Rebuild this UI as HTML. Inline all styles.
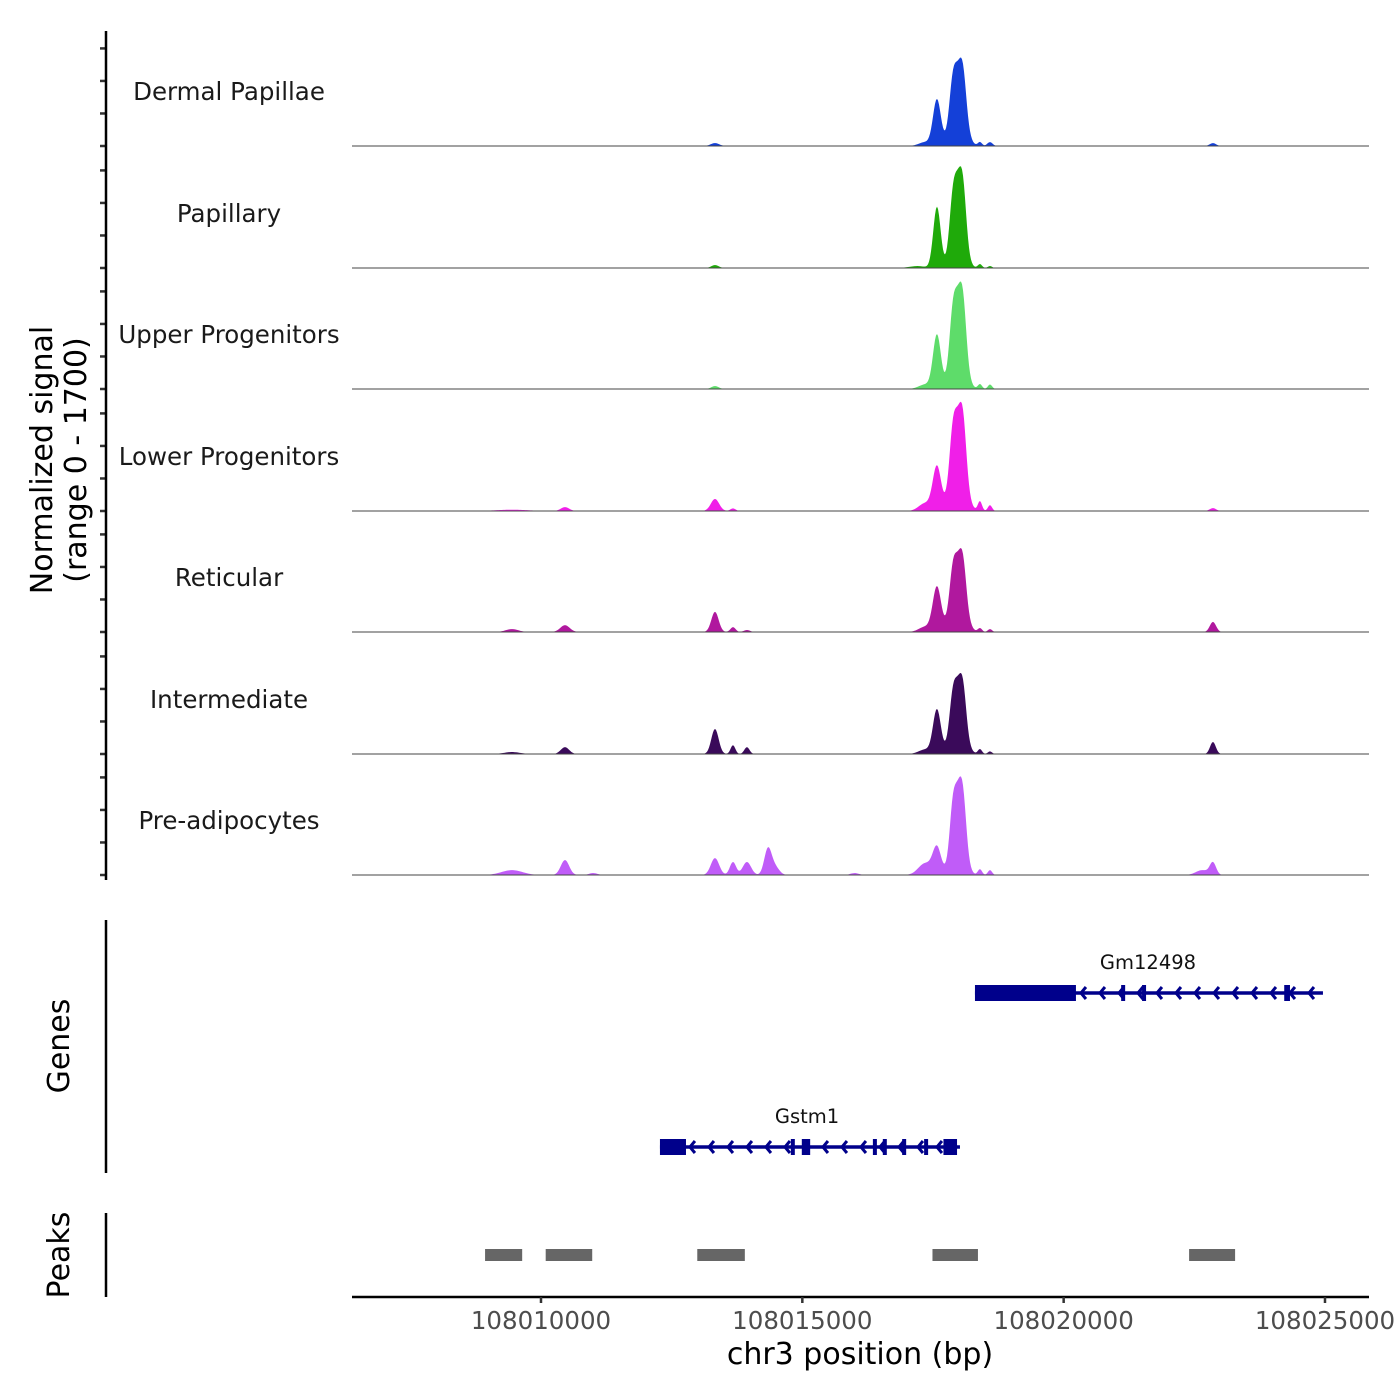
<!DOCTYPE html>
<html><head><meta charset="utf-8">
<style>
html,body{margin:0;padding:0;background:#fff;}
svg{display:block;font-family:"DejaVu Sans","Liberation Sans",sans-serif;}
</style></head>
<body>
<svg id="chart" width="1400" height="1400" viewBox="0 0 1400 1400">
<g id="tracks"></g>
<g id="genes"></g>
<g id="peaks"></g>
<g id="axes"></g>
</svg>
<script>
// ---- data ----
const trackNames = ["Dermal Papillae","Papillary","Upper Progenitors","Lower Progenitors","Reticular","Intermediate","Pre-adipocytes"];
const trackColors = ["#1440d8","#1faa0a","#5edc6a","#f01fe8","#b0189e","#3a0a5a","#c05cf8"];
// peaks per track: [center bp, height (signal), sigma bp]
const peaksDP  = [[108017980,1150,120],[108017870,350,60],[108018080,420,60],[108017576,710,75],[108013329,45,80],[108018398,60,40],[108018590,60,50],[108022856,45,60],[108017350,60,120]];
const peaksPap = [[108017980,1330,110],[108017870,400,60],[108018080,500,60],[108017576,940,70],[108013329,45,70],[108018398,60,40],[108018590,30,40],[108017200,30,150]];
const peaksUP  = [[108017980,1400,115],[108017870,420,60],[108018080,520,60],[108017576,830,75],[108013329,45,70],[108018398,75,40],[108018590,70,40],[108017350,70,120]];
const peaksLP  = [[108017980,1420,120],[108017870,420,60],[108018080,520,60],[108017576,680,80],[108013329,185,80],[108010459,60,80],[108018398,150,40],[108018590,90,40],[108022856,45,60],[108017350,120,120],[108013673,40,50],[108009445,20,300]];
const peaksRet = [[108017980,1090,120],[108017870,330,60],[108018080,400,60],[108017576,690,80],[108013329,310,70],[108010459,105,90],[108013673,75,50],[108013940,30,60],[108022856,155,60],[108009445,45,120],[108018398,60,40],[108018590,45,40],[108017350,80,120]];
const peaksInt = [[108017980,1050,115],[108017870,330,60],[108018080,400,60],[108017576,680,75],[108013329,385,70],[108013673,135,45],[108013940,105,50],[108010459,105,80],[108022856,185,55],[108018398,75,40],[108018590,40,40],[108009445,30,150],[108017350,70,120]];
const peaksPre = [[108017980,1300,110],[108017870,380,55],[108018080,480,60],[108017576,415,80],[108013329,260,80],[108013673,200,60],[108013940,200,80],[108014342,400,70],[108014480,120,80],[108010459,230,80],[108009445,75,200],[108022856,185,60],[108022650,75,120],[108018398,90,40],[108018590,75,40],[108017350,180,130],[108011000,30,80],[108016000,30,80]];
const trackPeaks = [peaksDP,peaksPap,peaksUP,peaksLP,peaksRet,peaksInt,peaksPre];
const xTicks = [108010000,108015000,108020000,108025000];
const xTickLabels = ["108010000","108015000","108020000","108025000"];
const yTicks = [0,500,1000,1500];
const geneNames = ["Gm12498","Gstm1"];
const geneSpans = [[108018303,108024961],[108012276,108018016]];
const geneExons = [
  [[108018303,108020235],[108021100,108021140],[108021500,108021540],[108024220,108024330]],
  [[108012276,108012774],[108014780,108014830],[108014990,108015150],[108016350,108016400],[108016540,108016590],[108016910,108016950],[108017330,108017370],[108017700,108017960]]
];
const peakRegions = [[108008930,108009640],[108010090,108010980],[108012990,108013900],[108017490,108018360],[108022400,108023280]];

// ---- scales ----
const X0=352, X1=1369, BP0=108006384, BP1=108025842;
const xs = bp => X0 + (bp-BP0)*(X1-X0)/(BP1-BP0);
const baselines = [146,268,389,511,632,754,875];
const trackH = 110.6, YMAX = 1700;
const ys = (v,b) => b - v/YMAX*trackH;
const NS="http://www.w3.org/2000/svg";
function mk(tag, attrs, parent){const e=document.createElementNS(NS,tag);for(const k in attrs)e.setAttribute(k,attrs[k]);parent.appendChild(e);return e;}

const gT=document.getElementById('tracks');
trackNames.forEach((name,i)=>{
  const b=baselines[i];
  const g=mk('g',{},gT);
  
  
  let d='M'+X0+','+b;
  for(let x=X0;x<=X1;x+=1){
    const bp=BP0+(x-X0)*(BP1-BP0)/(X1-X0);
    let v=0;
    for(const p of trackPeaks[i]){const z=(bp-p[0])/p[2];v+=p[1]*Math.exp(-0.5*z*z);}
    d+=' L'+x+','+ys(Math.min(v,YMAX),b).toFixed(2);
  }
  d+=' L'+X1+','+b+' Z';
  const area=mk('path',{d:d,fill:trackColors[i]},g);
  
  
  const bl=mk('line',{x1:X0,x2:X1,y1:b,y2:b,stroke:'#444',"stroke-width":1},g);
  
  
  const t=mk('text',{x:229,y:b-46,"text-anchor":"middle","font-size":24.5,fill:"#1a1a1a"},g);
  t.textContent=name;
  
  
  yTicks.forEach(v=>{
    const tk=mk('line',{x1:100,x2:106,y1:ys(v,b),y2:ys(v,b),stroke:'#333',"stroke-width":2.5},g);
    
    
  });
});

// genes
const gG=document.getElementById('genes');
const geneY=[993,1147];
geneNames.forEach((n,i)=>{
  const y=geneY[i];
  const g=mk('g',{},gG);
  
  
  const x1=xs(geneSpans[i][0]), x2=xs(geneSpans[i][1]);
  mk('line',{x1:x1,x2:x2,y1:y,y2:y,stroke:'#00008b',"stroke-width":3.5},g);
  for(let x=x1+30;x<x2-5;x+=19){
    mk('polyline',{points:(x+5)+','+(y-6)+' '+x+','+y+' '+(x+5)+','+(y+6),fill:'none',stroke:'#00008b',"stroke-width":3},g);
  }
  geneExons[i].forEach(e=>{
    const ex=mk('rect',{x:xs(e[0]),y:y-8,width:Math.max(4,xs(e[1])-xs(e[0])),height:16,fill:'#00008b'},g);
    
    
  });
  const lx = i===0 ? 1148 : 807;
  const t=mk('text',{x:lx,y:y-24,"text-anchor":"middle","font-size":19.5,fill:"#111"},g);
  t.textContent=n;
  
  
});

// peaks
const gP=document.getElementById('peaks');
peakRegions.forEach(p=>{
  const r=mk('rect',{x:xs(p[0]),y:1249,width:xs(p[1])-xs(p[0]),height:12,fill:'#666'},gP);
  
  
});

// axes
const gA=document.getElementById('axes');
[[31,880],[920,1173],[1213,1297]].forEach(s=>{
  const l=mk('line',{x1:106,x2:106,y1:s[0],y2:s[1],stroke:'#000',"stroke-width":2.5},gA);
  
  
});
const xl=mk('line',{x1:X0,x2:X1,y1:1297,y2:1297,stroke:'#000',"stroke-width":2.5},gA);


xTicks.forEach((v,i)=>{
  const tk=mk('line',{x1:xs(v),x2:xs(v),y1:1297,y2:1303,stroke:'#333',"stroke-width":2.5},gA);
  
  
  const t=mk('text',{x:xs(v),y:1329,"text-anchor":"middle","font-size":24.5,fill:"#4d4d4d"},gA);
  t.textContent=xTickLabels[i];
  
  
});
const xt=mk('text',{x:860,y:1364,"text-anchor":"middle","font-size":30,fill:"#000"},gA);
xt.textContent="chr3 position (bp)";


const yt=mk('text',{transform:"translate(0,460) rotate(-90)","text-anchor":"middle","font-size":30,fill:"#000"},gA);


const ts1=mk('tspan',{x:0,y:52},yt); ts1.textContent="Normalized signal";
const ts2=mk('tspan',{x:0,y:86},yt); ts2.textContent="(range 0 - 1700)";
const gt=mk('text',{transform:"translate(69,1046) rotate(-90)","text-anchor":"middle","font-size":30,fill:"#000"},gA);
gt.textContent="Genes";


const pt=mk('text',{transform:"translate(69,1255) rotate(-90)","text-anchor":"middle","font-size":30,fill:"#000"},gA);
pt.textContent="Peaks";


</script>
</body></html>
